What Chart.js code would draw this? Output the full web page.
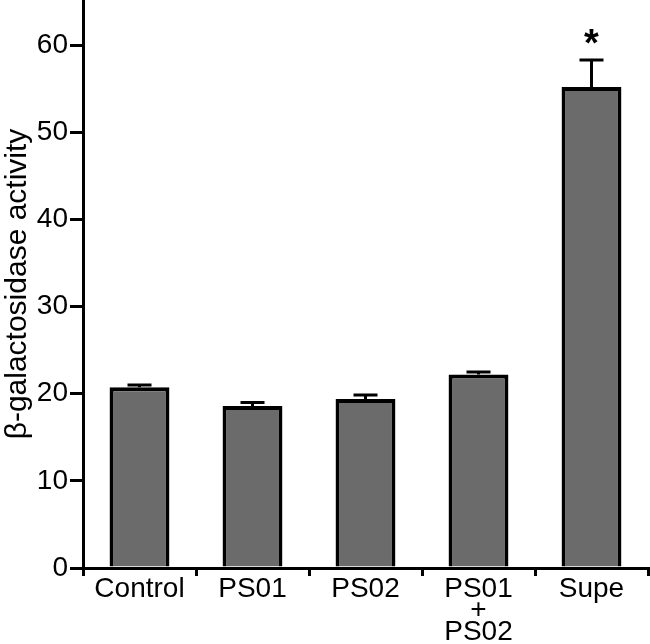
<!DOCTYPE html>
<html><head><meta charset="utf-8">
<script src="https://cdn.jsdelivr.net/npm/chart.js@4/dist/chart.umd.min.js"></script>
<style>html,body{margin:0;padding:0;background:#fff}#wrap{width:650px;height:644px}</style>
</head><body><div id="wrap"><canvas id="c" width="650" height="644"></canvas></div>
<script>
const categories = ["Control", "PS01", "PS02", ["PS01", "+", "PS02"], "Supe"];
const values = [20.75, 18.6, 19.4, 22.2, 55.2];
const errors = [0.25, 0.4, 0.45, 0.3, 3.1];
const significance = ["", "", "", "", "*"];
const yTicks = [0, 10, 20, 30, 40, 50, 60];
const yTitle = "β-galactosidase activity";

const FONT = "'Liberation Sans', Arial, sans-serif";

const errPlugin = {
  id: 'err',
  afterDatasetsDraw(chart) {
    const ctx = chart.ctx, x = chart.scales.x, y = chart.scales.y;
    ctx.save();
    ctx.strokeStyle = '#000'; ctx.lineWidth = 3;
    values.forEach((v, i) => {
      const cx = x.getPixelForValue(i);
      const top = y.getPixelForValue(v + errors[i]);
      const base = y.getPixelForValue(v);
      ctx.beginPath();
      ctx.moveTo(cx, base); ctx.lineTo(cx, top);
      ctx.moveTo(cx - 12, top); ctx.lineTo(cx + 12, top);
      ctx.stroke();
      if (significance[i]) {
        ctx.fillStyle = '#000';
        ctx.font = 'bold 38px ' + FONT;
        ctx.textAlign = 'center'; ctx.textBaseline = 'alphabetic';
        ctx.fillText(significance[i], cx, top - 4);
      }
    });
    ctx.restore();
  }
};

new Chart(document.getElementById('c'), {
  type: 'bar',
  data: {
    labels: categories,
    datasets: [{
      data: values,
      backgroundColor: '#6b6b6b',
      borderColor: '#000',
      borderWidth: 4,
      borderSkipped: 'bottom',
      barPercentage: 0.53,
      categoryPercentage: 1.0
    }]
  },
  options: {
    responsive: false,
    animation: false,
    devicePixelRatio: 1,
    layout: { padding: { top: 0, right: 2, left: 0, bottom: 0 } },
    plugins: { legend: { display: false }, tooltip: { enabled: false } },
    scales: {
      x: {
        offset: true,
        grid: { offset: true, drawOnChartArea: false, color: '#000', lineWidth: 3, tickLength: 8 },
        border: { color: '#000', width: 3 },
        ticks: { color: '#000', font: { family: FONT, size: 28, lineHeight: 0.78 }, padding: 2, maxRotation: 0, autoSkip: false },
        afterFit(s) { s.height = 76; s.paddingLeft = 0; s.paddingRight = 0; }
      },
      y: {
        min: 0, max: 65.2,
        afterBuildTicks(s) { s.ticks = yTicks.map(v => ({ value: v })); },
        grid: { drawOnChartArea: false, color: '#000', lineWidth: 3, tickLength: 13 },
        border: { color: '#000', width: 3 },
        ticks: { color: '#000', font: { family: FONT, size: 28 }, padding: 2 },
        title: { display: true, text: yTitle, color: '#000', font: { family: FONT, size: 30 }, padding: { top: 0, bottom: 0 } },
        afterFit(s) { s.width = 83; s.paddingTop = 0; s.paddingBottom = 0; }
      }
    }
  },
  plugins: [errPlugin]
});
</script></body></html>
